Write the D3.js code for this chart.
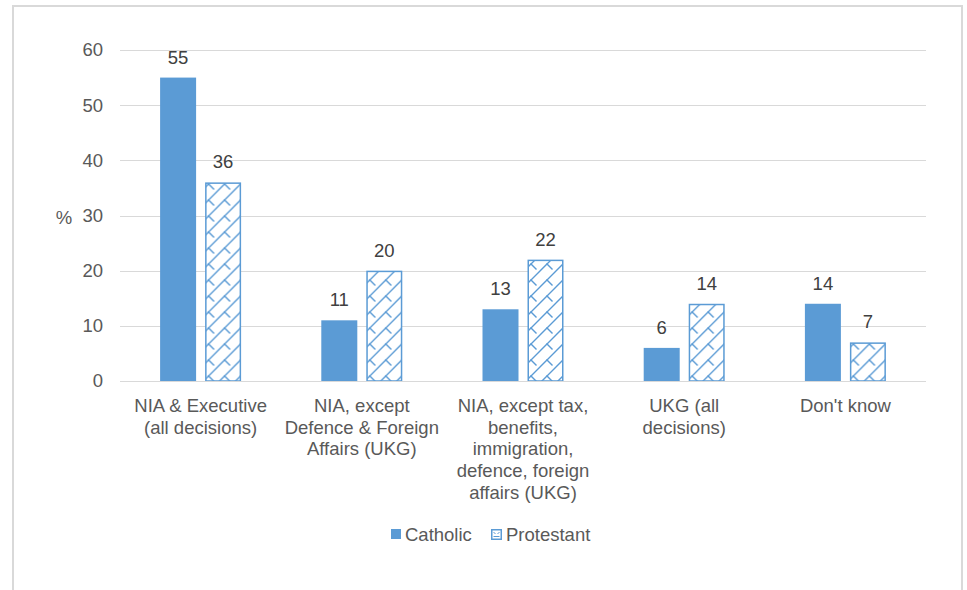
<!DOCTYPE html>
<html>
<head>
<meta charset="utf-8">
<script src="https://cdn.jsdelivr.net/npm/d3@7"></script>
<style>
  html, body { margin: 0; padding: 0; background: #fff; }
  svg { display: block; font-family: "Liberation Sans", Arial, sans-serif; }
</style>
</head>
<body>
<svg id="chart" width="967" height="590"></svg>
<script>
// Categories (each entry is a list of wrapped label lines)
const categories = [
  ["NIA & Executive", "(all decisions)"],
  ["NIA, except", "Defence & Foreign", "Affairs (UKG)"],
  ["NIA, except tax,", "benefits,", "immigration,", "defence, foreign", "affairs (UKG)"],
  ["UKG (all", "decisions)"],
  ["Don't know"]
];
const seriesNames = ["Catholic", "Protestant"];
const catholic = [55, 11, 13, 6, 14];
const protestant = [36, 20, 22, 14, 7];
const yTicks = [0, 10, 20, 30, 40, 50, 60];

const blue = "#5B9BD5";
const textCol = "#595959";
const fs = 18.5;

const svg = d3.select("#chart");
const margin = { left: 120, right: 41 };
const W = 967, H = 590;

// Weave hatch for the second series: long rising diagonals with short
// staggered falling strokes between them
const defs = svg.append("defs");
const P = 16;
const pat = defs.append("pattern")
  .attr("id", "weave")
  .attr("patternUnits", "userSpaceOnUse")
  .attr("width", P).attr("height", P);
pat.append("rect").attr("width", P).attr("height", P).attr("fill", "#fff");
const pg = pat.append("g").attr("stroke", blue).attr("stroke-width", 1.4).attr("fill", "none")
  .attr("stroke-linecap", "square");
pg.append("path").attr("d", `M-1,${P + 1} L${P + 1},-1 M-1,1 L1,-1 M${P - 1},${P + 1} L${P + 1},${P - 1}`);
pg.append("path").attr("d", `M${P / 2},${P / 2} L${P / 2 + 5},${P / 2 + 5}`);
pg.append("path").attr("d", `M${P / 2 - P},${P / 2} L${P / 2 - P + 5},${P / 2 + 5} M${P / 2},${P / 2 - P} L${P / 2 + 5},${P / 2 - P + 5}`);

// Outer frame
svg.append("path")
  .attr("d", `M13,${H} V6 H962 V${H}`)
  .attr("fill", "none").attr("stroke", "#d9d9d9").attr("stroke-width", 2);

const x0 = d3.scaleBand()
  .domain(d3.range(categories.length))
  .range([margin.left, W - margin.right])
  .paddingInner(0).paddingOuter(0);

const y = d3.scaleLinear().domain([0, 60]).range([381, 50]);

const barW = 36, gap = 9;

// Gridlines
svg.append("g").selectAll("line").data(yTicks).join("line")
  .attr("x1", margin.left).attr("x2", W - margin.right)
  .attr("y1", d => Math.round(y(d)) + 0.5).attr("y2", d => Math.round(y(d)) + 0.5)
  .attr("stroke", "#d9d9d9").attr("stroke-width", 1);

// Y tick labels
const yAxis = d3.axisLeft(y).tickValues(yTicks).tickSize(0).tickPadding(0);
const yg = svg.append("g").attr("transform", `translate(${margin.left - 17},0)`).call(yAxis);
yg.select(".domain").remove();
yg.selectAll("text").attr("fill", textCol).attr("font-size", fs).attr("font-family", "Liberation Sans, Arial, sans-serif");

// Axis title
svg.append("text").attr("x", 64).attr("y", 219).attr("text-anchor", "middle")
  .attr("dominant-baseline", "middle").attr("fill", textCol).attr("font-size", fs).text("%");

// Bars
const groups = svg.append("g").selectAll("g").data(categories.map((c, i) => i)).join("g")
  .attr("transform", i => `translate(${x0(i) + x0.bandwidth() / 2},0)`);

groups.append("rect")
  .attr("x", -barW - gap / 2).attr("width", barW)
  .attr("y", i => y(catholic[i])).attr("height", i => y(0) - y(catholic[i]))
  .attr("fill", blue);

groups.append("rect")
  .attr("x", gap / 2 + 0.75).attr("width", barW - 1.5)
  .attr("y", i => y(protestant[i]) + 0.75).attr("height", i => y(0) - y(protestant[i]) - 0.75)
  .attr("fill", "url(#weave)").attr("stroke", blue).attr("stroke-width", 1.5);

// Value labels
groups.append("text")
  .attr("x", -barW / 2 - gap / 2).attr("y", i => y(catholic[i]) - 14)
  .attr("text-anchor", "middle").attr("fill", "#404040").attr("font-size", fs)
  .text(i => catholic[i]);
groups.append("text")
  .attr("x", barW / 2 + gap / 2).attr("y", i => y(protestant[i]) - 14)
  .attr("text-anchor", "middle").attr("fill", "#404040").attr("font-size", fs)
  .text(i => protestant[i]);

// Baseline
svg.append("line").attr("x1", margin.left).attr("x2", W - margin.right)
  .attr("y1", y(0) + 0.5).attr("y2", y(0) + 0.5)
  .attr("stroke", "#d9d9d9").attr("stroke-width", 1);

// Category labels
groups.append("text")
  .attr("text-anchor", "middle").attr("fill", textCol).attr("font-size", fs)
  .each(function (i) {
    d3.select(this).selectAll("tspan").data(categories[i]).join("tspan")
      .attr("x", 0).attr("y", (d, k) => 412 + k * 21.7).text(d => d);
  });

// Legend
const legend = svg.append("g").attr("transform", "translate(391,534)");
legend.append("rect").attr("x", 0).attr("y", -5).attr("width", 10).attr("height", 10).attr("fill", blue);
legend.append("text").attr("x", 14).attr("y", 6.5).attr("fill", textCol).attr("font-size", fs).text(seriesNames[0]);
legend.append("rect").attr("x", 100.75).attr("y", -4.25).attr("width", 9.5).attr("height", 9.5)
  .attr("fill", "#fff").attr("stroke", blue).attr("stroke-width", 1.5);
legend.append("path").attr("d", "M102.5,-2 L104.5,0 M108.5,-2 L106.5,0 M102.5,2.5 L108.5,2.5")
  .attr("stroke", blue).attr("stroke-width", 1);
legend.append("text").attr("x", 115).attr("y", 6.5).attr("fill", textCol).attr("font-size", fs).text(seriesNames[1]);
</script>
</body>
</html>
